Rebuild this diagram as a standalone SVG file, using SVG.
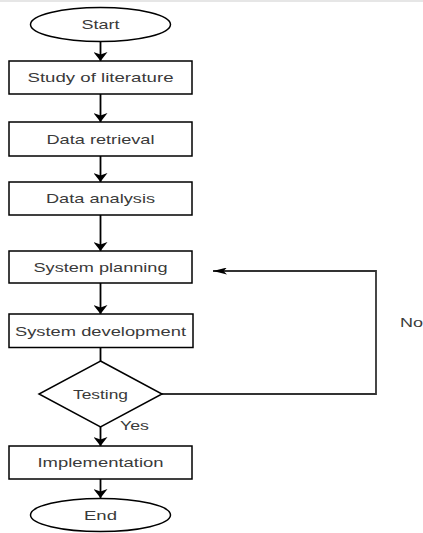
<svg xmlns="http://www.w3.org/2000/svg" width="423" height="533" viewBox="0 0 423 533">
<defs>
<style>
.shape{fill:#fff;stroke:#000;stroke-width:1.5}
.edge{fill:none;stroke:#000;stroke-width:1.8}
.fb{fill:none;stroke:#333;stroke-width:1.8}
text{font-family:"Liberation Sans",Arial,sans-serif;font-size:13px;fill:#3a3a3a;text-anchor:middle}
.lbl{text-anchor:start}
</style>
<marker id="arr" markerUnits="userSpaceOnUse" viewBox="0 0 9 14" markerWidth="9" markerHeight="14" refX="9" refY="7" orient="auto">
<path d="M0,0 L9,7 L0,14 L2.5,7 Z" fill="#000"/>
</marker>
<marker id="arrh" markerUnits="userSpaceOnUse" viewBox="0 0 14 7" markerWidth="14" markerHeight="7" refX="14" refY="3.5" orient="auto">
<path d="M0,0 L14,3.5 L0,7 L3.5,3.5 Z" fill="#000"/>
</marker>
</defs>
<rect width="423" height="533" fill="#fff"/>
<rect x="0" y="0" width="423" height="2" fill="#e6e6e6"/>
<g id="connectors">
<line class="edge" x1="100.5" y1="41.5" x2="100.5" y2="61" marker-end="url(#arr)"/>
<line class="edge" x1="100.5" y1="94" x2="100.5" y2="122" marker-end="url(#arr)"/>
<line class="edge" x1="100.5" y1="156" x2="100.5" y2="182" marker-end="url(#arr)"/>
<line class="edge" x1="100.5" y1="215" x2="100.5" y2="251" marker-end="url(#arr)"/>
<line class="edge" x1="100.5" y1="283" x2="100.5" y2="314" marker-end="url(#arr)"/>
<line class="edge" x1="100.5" y1="347.5" x2="100.5" y2="361"/>
<line class="edge" x1="100.5" y1="427" x2="100.5" y2="446" marker-end="url(#arr)"/>
<line class="edge" x1="100.5" y1="479" x2="100.5" y2="498" marker-end="url(#arr)"/>
<polyline class="fb" points="162,394 376,394 376,271 213,271" marker-end="url(#arrh)"/>
<text class="lbl" x="120" y="430" textLength="29" lengthAdjust="spacingAndGlyphs">Yes</text>
<text class="lbl" x="400" y="327" textLength="23" lengthAdjust="spacingAndGlyphs">No</text>
</g>
<g id="start">
<ellipse class="shape" cx="100.5" cy="24.5" rx="70" ry="17"/>
<text x="100.5" y="29" textLength="38" lengthAdjust="spacingAndGlyphs">Start</text>
</g>
<g id="study">
<rect class="shape" x="9" y="61" width="183" height="33"/>
<text x="100.5" y="82" textLength="146" lengthAdjust="spacingAndGlyphs">Study of literature</text>
</g>
<g id="retrieval">
<rect class="shape" x="9" y="122" width="183" height="34"/>
<text x="100.5" y="143.5" textLength="108" lengthAdjust="spacingAndGlyphs">Data retrieval</text>
</g>
<g id="analysis">
<rect class="shape" x="9" y="182" width="183" height="33"/>
<text x="100.5" y="203" textLength="109" lengthAdjust="spacingAndGlyphs">Data analysis</text>
</g>
<g id="planning">
<rect class="shape" x="9" y="251" width="183" height="32"/>
<text x="100.5" y="271.5" textLength="134" lengthAdjust="spacingAndGlyphs">System planning</text>
</g>
<g id="development">
<rect class="shape" x="9" y="314" width="184" height="33.5"/>
<text x="100.5" y="335.5" textLength="171" lengthAdjust="spacingAndGlyphs">System development</text>
</g>
<g id="testing">
<polygon class="shape" points="100.5,361 162,394 100.5,427 39,394"/>
<text x="100.5" y="398.5" textLength="55" lengthAdjust="spacingAndGlyphs">Testing</text>
</g>
<g id="implementation">
<rect class="shape" x="9" y="446" width="183" height="33"/>
<text x="100.5" y="467" textLength="126" lengthAdjust="spacingAndGlyphs">Implementation</text>
</g>
<g id="end">
<ellipse class="shape" cx="100.5" cy="515" rx="70" ry="16.5"/>
<text x="100.5" y="519.5" textLength="33" lengthAdjust="spacingAndGlyphs">End</text>
</g>
</svg>
